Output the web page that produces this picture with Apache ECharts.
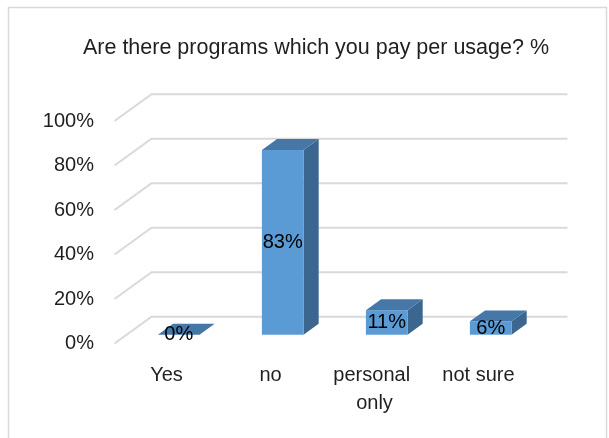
<!DOCTYPE html>
<html>
<head>
<meta charset="utf-8">
<script src="https://cdn.jsdelivr.net/npm/echarts@6/dist/echarts.min.js"></script>
<style>
html,body{margin:0;padding:0;background:#fff;}
#chart{width:609px;height:438px;}
</style>
</head>
<body>
<div id="chart"></div>
<script>
// ---- data ----
const titleText = 'Are there programs which you pay per usage? %';
const categories = ['Yes', 'no', 'personal only', 'not sure'];
const values = [0, 83, 11, 6];
const yTicks = [0, 20, 40, 60, 80, 100];

// ---- 3D look ----
const DEPTH = [37, -26.7];   // front plane -> back wall
const F1 = 0.33, F2 = 0.74;  // bar front / back depth fractions
const FONT = 'Liberation Sans, Arial, sans-serif';
const TXT = '#1f1f1f';

const chart = echarts.init(document.getElementById('chart'), null, {renderer: 'canvas'});

const option = {
  animation: false,
  backgroundColor: '#ffffff',
  title: {
    text: titleText,
    left: 311,
    textAlign: 'center',
    top: 31,
    textStyle: {fontFamily: FONT, fontSize: 21.5, fontWeight: 'normal', color: TXT, lineHeight: 24}
  },
  graphic: [{
    type: 'rect', left: 6, top: 5, z: -10,
    shape: {width: 598, height: 445},
    style: {fill: 'none', stroke: '#D9D9D9', lineWidth: 1.5}
  }],
  grid: {left: 114.5, top: 121, width: 416, height: 222.5, containLabel: false},
  xAxis: {
    type: 'category',
    data: categories,
    axisLine: {show: false},
    axisTick: {show: false},
    splitLine: {show: false},
    axisLabel: {
      fontFamily: FONT, fontSize: 20, color: TXT, margin: 18, lineHeight: 28,
      width: 100, overflow: 'break', interval: 0
    }
  },
  yAxis: {
    type: 'value',
    min: 0, max: 100, interval: 20,
    axisLine: {show: false},
    axisTick: {show: false},
    splitLine: {show: false},
    axisLabel: {formatter: '{value}%', fontFamily: FONT, fontSize: 20, color: TXT, margin: 20.5}
  },
  series: [
    {
      type: 'custom',
      name: 'grid',
      silent: true,
      z: 1,
      data: yTicks.map(v => [0, v]),
      encode: {x: 0, y: 1},
      renderItem: function (params, api) {
        const cs = params.coordSys;
        const y = api.coord([0, api.value(1)])[1];
        const x0 = cs.x, x1 = cs.x + cs.width;
        return {
          type: 'polyline',
          shape: {points: [[x0, y], [x0 + DEPTH[0], y + DEPTH[1]], [x1 + DEPTH[0], y + DEPTH[1]]]},
          style: {stroke: '#D9D9D9', lineWidth: 2, fill: null}
        };
      }
    },
    {
      type: 'custom',
      name: 'bars',
      z: 5,
      data: values.map((v, i) => [i, v]),
      encode: {x: 0, y: 1},
      renderItem: function (params, api) {
        const i = api.value(0), v = api.value(1);
        const base = api.coord([i, 0]);
        const top = api.coord([i, v]);
        const bw = api.size([1, 0])[0] * 0.4;
        const fx = DEPTH[0] * F1, fy = DEPTH[1] * F1;
        const dx = DEPTH[0] * (F2 - F1), dy = DEPTH[1] * (F2 - F1);
        const L = base[0] - bw / 2 + fx, R = base[0] + bw / 2 + fx;
        const T = top[1] + fy, B = base[1] + fy;
        const children = [];
        if (B - T > 0.5) {
          children.push({type: 'polygon', shape: {points: [[R, T], [R + dx, T + dy], [R + dx, B + dy], [R, B]]},
            style: {fill: '#3A6690'}});
          children.push({type: 'rect', shape: {x: L, y: T, width: R - L, height: B - T},
            style: {fill: '#5B9BD5'}});
        }
        children.push({type: 'polygon', shape: {points: [[L, T], [R, T], [R + dx, T + dy], [L + dx, T + dy]]},
          style: {fill: '#4677A9'}});
        children.push({type: 'text', z2: 10, style: {
          text: v + '%', x: (L + R) / 2, y: (T + B) / 2,
          align: 'center', verticalAlign: 'middle',
          fontFamily: FONT, fontSize: 20, fill: '#000'
        }});
        return {type: 'group', children: children};
      }
    }
  ]
};
chart.setOption(option);
</script>
</body>
</html>
